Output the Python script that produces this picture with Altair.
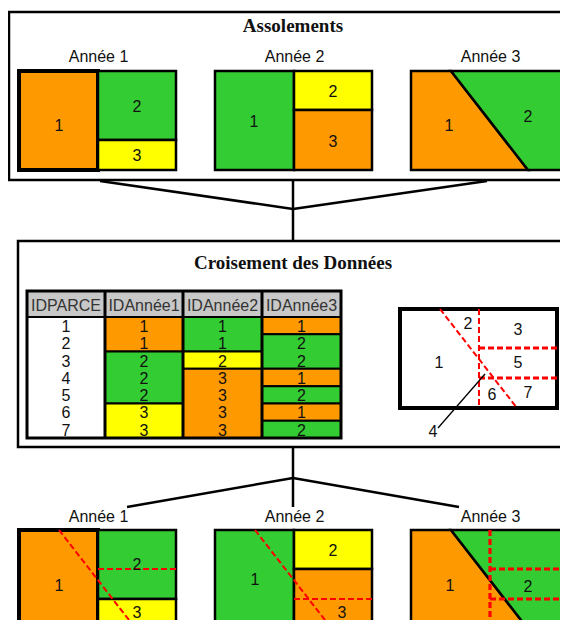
import altair as alt
import pandas as pd

# ---------------- data ----------------
ORANGE, GREEN, YELLOW, GREY = "#FF9900", "#33CC33", "#FFFF00", "#C8C8C8"

titles = ["Assolements", "Croisement des Données"]
years = ["Année 1", "Année 2", "Année 3"]
columns = ["IDPARCELLE", "IDAnnée1", "IDAnnée2", "IDAnnée3"]
id_parcelle = [1, 2, 3, 4, 5, 6, 7]
id_annee1 = [1, 1, 2, 2, 2, 3, 3]
id_annee2 = [1, 1, 2, 3, 3, 3, 3]
id_annee3 = [1, 2, 2, 1, 2, 1, 2]
colours_annee1 = {1: ORANGE, 2: GREEN, 3: YELLOW}
colours_annee2 = {1: GREEN, 2: YELLOW, 3: ORANGE}
colours_annee3 = {1: ORANGE, 2: GREEN}
cross_labels = ["1", "2", "3", "4", "5", "6", "7"]

# ---------------- layout ----------------
W, H = 552, 612
PW, PH = 157, 99                      # parcel panel size
PX = [19, 215, 411]                   # panel left edges
TOP_Y, BOT_Y = 71, 530                # panel top edges (top / bottom rows)
MINI_X, MINI_Y = 400, 309
DIV_X, H1_Y, H2_Y = 79, 69, 39        # relative divider positions
DIAG_T, DIAG_B = 40, 117              # relative diagonal ends

shapes = [
    [(1, 0, DIV_X, 0, DIV_X, 0, PH), (2, DIV_X, PW, DIV_X, PW, 0, H1_Y), (3, DIV_X, PW, DIV_X, PW, H1_Y, PH)],
    [(1, 0, DIV_X, 0, DIV_X, 0, PH), (2, DIV_X, PW, DIV_X, PW, 0, H2_Y), (3, DIV_X, PW, DIV_X, PW, H2_Y, PH)],
    [(1, 0, DIAG_T, 0, DIAG_B, 0, PH), (2, DIAG_T, PW, DIAG_B, PW, 0, PH)],
]
year_colours = [colours_annee1, colours_annee2, colours_annee3]
label_top = [[(40, 60), (118, 41), (118, 90)], [(39, 56), (118, 26), (118, 76)], [(38, 60), (117, 51)]]
label_bot = [[(40, 61), (118, 40), (118, 88)], [(40, 55), (118, 26), (127, 88)], [(39, 61), (117, 62)]]

xs = alt.Scale(domain=[8, 8 + W], nice=False, zero=False)
ys = alt.Scale(domain=[8, 8 + H], nice=False, zero=False, reverse=True)
SANS, SERIF = "Liberation Sans", "Liberation Serif"


def X(f):
    return alt.X(f, type="quantitative", scale=xs, axis=None)


def Y(f):
    return alt.Y(f, type="quantitative", scale=ys, axis=None)


def box(df, **mk):
    return alt.Chart(pd.DataFrame(df)).mark_rect(**mk).encode(
        x=X("x"), x2="x2:Q", y=Y("y"), y2="y2:Q")


def rules(df, **mk):
    return alt.Chart(pd.DataFrame(df)).mark_rule(**mk).encode(
        x=X("x"), y=Y("y"), x2="x2:Q", y2="y2:Q")


# ---- parcels (areas) ----
area_rows = []
for sec, y0 in (("t", TOP_Y), ("b", BOT_Y)):
    for k, x0 in enumerate(PX):
        for pid, xtl, xtr, xbl, xbr, yt, yb in shapes[k]:
            key = f"{sec}{k}{pid}"
            c = year_colours[k][pid]
            w = 4 if (k == 0 and pid == 1) else 2.5
            area_rows.append(dict(g=key, y=y0 + yt, x=x0 + xtl, x2=x0 + xtr, c=c, w=w))
            area_rows.append(dict(g=key, y=y0 + yb, x=x0 + xbl, x2=x0 + xbr, c=c, w=w))
areas = alt.Chart(pd.DataFrame(area_rows)).mark_area(orient="horizontal", stroke="black").encode(
    y=Y("y"), x=X("x"), x2="x2:Q", detail="g:N",
    fill=alt.Fill("c:N", scale=None), strokeWidth=alt.StrokeWidth("w:Q", scale=None))

# ---- frames ----
frame_layer = box([dict(x=9, x2=577, y=12, y2=180), dict(x=18, x2=568, y=241, y2=447)],
                  fill="white", stroke="black", strokeWidth=2.5)

# ---- connectors ----
conn_layer = rules([
    dict(x=100, y=181, x2=293, y2=209), dict(x=487, y=181, x2=293, y2=209),
    dict(x=293, y=180, x2=293, y2=241),
    dict(x=293, y=447, x2=293, y2=507), dict(x=293, y=478, x2=127, y2=507),
    dict(x=293, y=478, x2=459, y2=507),
], color="black", strokeWidth=2.5)


# ---- red dashed lines ----
def seg(x0, y0, a, b, c, d, w):
    return dict(x=x0 + a, y=y0 + b, x2=x0 + c, y2=y0 + d, w=w)


diag = (DIAG_T, 0, DIAG_B, PH)
vert = (DIV_X, 0, DIV_X, PH)
hor1 = (DIV_X, H1_Y, PW, H1_Y)
hor2 = (DIV_X, H2_Y, PW, H2_Y)
red_rows = [
    seg(MINI_X, MINI_Y, *diag, 2), seg(MINI_X, MINI_Y, *vert, 2),
    seg(MINI_X, MINI_Y, *hor1, 3.2), seg(MINI_X, MINI_Y, *hor2, 3.2),
    seg(PX[0], BOT_Y, *diag, 2), seg(PX[0], BOT_Y, *hor2, 2),
    seg(PX[1], BOT_Y, *diag, 2), seg(PX[1], BOT_Y, *hor1, 2),
    seg(PX[2], BOT_Y, *vert, 3.2), seg(PX[2], BOT_Y, *hor1, 3.2), seg(PX[2], BOT_Y, *hor2, 3.2),
]
red_layer = alt.Chart(pd.DataFrame(red_rows)).mark_rule(color="#FF0000", strokeDash=[6, 3]).encode(
    x=X("x"), y=Y("y"), x2="x2:Q", y2="y2:Q", strokeWidth=alt.StrokeWidth("w:Q", scale=None))

# ---- mini map ----
mini = box([dict(x=MINI_X, x2=MINI_X + PW, y=MINI_Y, y2=MINI_Y + PH)],
           fill="white", stroke="black", strokeWidth=4)
leader = rules([dict(x=438, y=428, x2=485, y2=374)], color="black", strokeWidth=1.3)
mini_pos = [(439, 368), (468, 329), (518, 335), (433, 437), (518, 368), (492, 400), (528, 398)]

# ---- table ----
COLS = [27, 105, 183, 262, 341]
HEAD_T, BODY_T, BODY_B = 291, 317, 438
RH = (BODY_B - BODY_T) / 7
cells = [dict(x=COLS[0], x2=COLS[1], y=BODY_T, y2=BODY_B, c="white")]
for k, (vals, cmap) in enumerate(zip([id_annee1, id_annee2, id_annee3], year_colours)):
    start = 0
    for i in range(1, 8):
        if i == 7 or vals[i] != vals[start]:
            cells.append(dict(x=COLS[k + 1], x2=COLS[k + 2], y=BODY_T + start * RH,
                              y2=BODY_T + i * RH, c=cmap[vals[start]]))
            start = i
cell_layer = alt.Chart(pd.DataFrame(cells)).mark_rect(stroke="black", strokeWidth=2).encode(
    x=X("x"), x2="x2:Q", y=Y("y"), y2="y2:Q", fill=alt.Fill("c:N", scale=None))
head_cells = box([dict(x=COLS[i], x2=COLS[i + 1], y=HEAD_T, y2=BODY_T) for i in range(4)],
                 fill=GREY, stroke="black", strokeWidth=2)
head0_text = alt.Chart(pd.DataFrame([dict(t=columns[0], x=COLS[0] + 4, y=BODY_T - 6)])).mark_text(
    align="left", baseline="alphabetic", font=SANS, fontSize=16, color="#333",
    limit=77, ellipsis="\u200b").encode(x=X("x"), y=Y("y"), text="t:N")
head_rest_text = alt.Chart(pd.DataFrame([dict(t=columns[i], x=(COLS[i] + COLS[i + 1]) / 2, y=BODY_T - 6)
                                         for i in range(1, 4)])).mark_text(
    align="center", baseline="alphabetic", font=SANS, fontSize=16, color="#333").encode(
    x=X("x"), y=Y("y"), text="t:N")
table_lines = rules([dict(x=COLS[i], y=HEAD_T, x2=COLS[i], y2=BODY_B) for i in range(1, 4)],
                    color="black", strokeWidth=3)
table_border = box([dict(x=COLS[0], x2=COLS[4], y=HEAD_T, y2=BODY_B)],
                   fill=None, stroke="black", strokeWidth=3)
digit_rows = []
for k, vals in enumerate([id_parcelle, id_annee1, id_annee2, id_annee3]):
    for i, v in enumerate(vals):
        digit_rows.append(dict(t=str(v), x=(COLS[k] + COLS[k + 1]) / 2, y=BODY_T + i * RH + 15))
digits = alt.Chart(pd.DataFrame(digit_rows)).mark_text(
    align="center", baseline="alphabetic", font=SANS, fontSize=16, color="#111").encode(
    x=X("x"), y=Y("y"), text="t:N")

# ---- texts ----
title_df = pd.DataFrame([dict(t=titles[0], x=293, y=32), dict(t=titles[1], x=293, y=269)])
title_layer = alt.Chart(title_df).mark_text(
    align="center", baseline="alphabetic", font=SERIF, fontSize=19, fontWeight="bold", color="#111").encode(
    x=X("x"), y=Y("y"), text="t:N")
lab_rows = []
for k, x0 in enumerate(PX):
    lab_rows.append(dict(t=years[k], x=x0 + PW / 2 + 1, y=62))
    lab_rows.append(dict(t=years[k], x=x0 + PW / 2 + 1, y=522))
    for j, (dx, dy) in enumerate(label_top[k]):
        lab_rows.append(dict(t=str(j + 1), x=x0 + dx, y=TOP_Y + dy))
    for j, (dx, dy) in enumerate(label_bot[k]):
        lab_rows.append(dict(t=str(j + 1), x=x0 + dx, y=BOT_Y + dy))
for t, p in zip(cross_labels, mini_pos):
    lab_rows.append(dict(t=t, x=p[0], y=p[1]))
labels = alt.Chart(pd.DataFrame(lab_rows)).mark_text(
    align="center", baseline="alphabetic", font=SANS, fontSize=16, color="#111").encode(
    x=X("x"), y=Y("y"), text="t:N")

chart = alt.layer(
    frame_layer, conn_layer, areas,
    cell_layer, head_cells, head0_text, head_rest_text, table_lines, table_border, digits,
    mini, red_layer, leader, title_layer, labels,
).properties(width=W, height=H, padding=0, autosize=alt.AutoSizeParams(type="none")
).configure_view(stroke=None)

chart.save("out.html", embed_options={"renderer": "svg", "actions": False})
